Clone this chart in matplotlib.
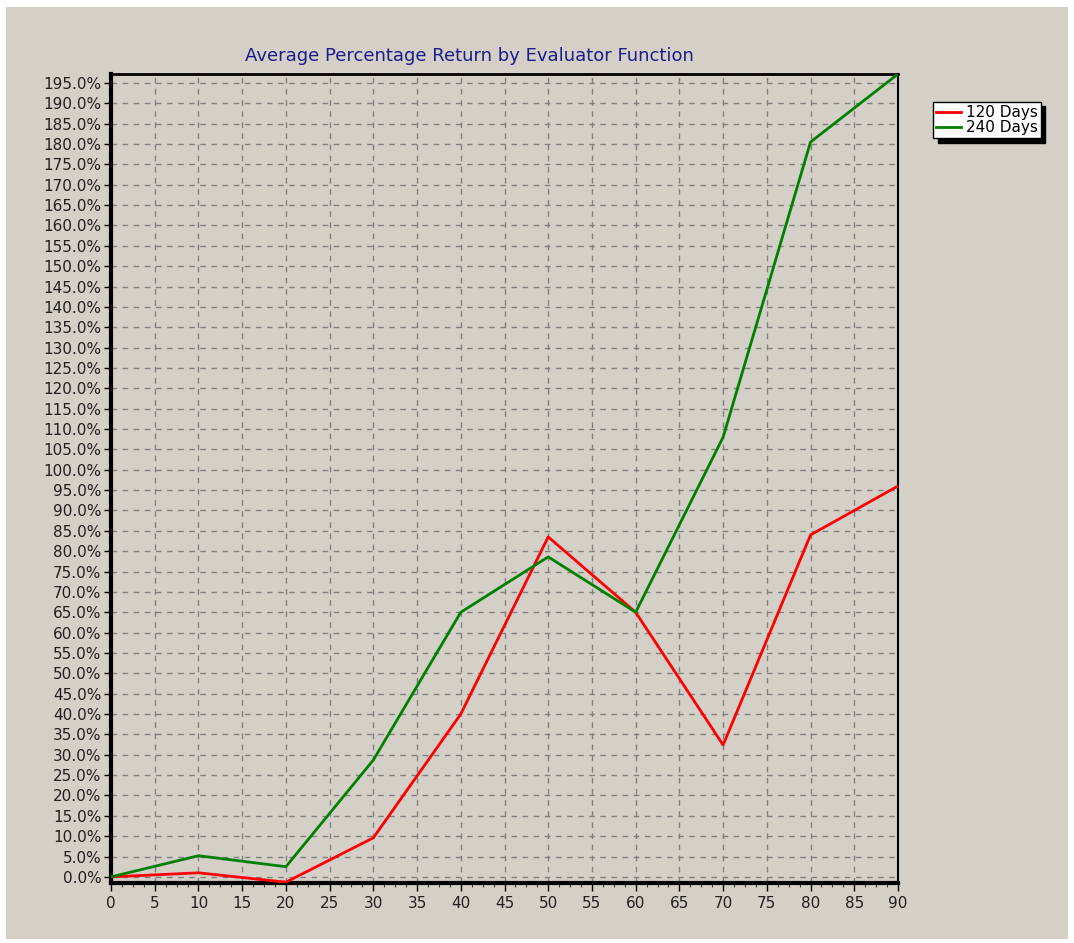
import matplotlib
matplotlib.use("Agg")
import matplotlib.pyplot as plt
from matplotlib.patches import Rectangle
from matplotlib.ticker import MultipleLocator, FuncFormatter

# evaluator function value (x) and average return in percent
evaluator = [0, 10, 20, 30, 40, 50, 60, 70, 80, 90]
days_120 = [0.0, 1.0, -1.3, 9.6, 40.0, 83.5, 65.0, 32.4, 84.0, 96.0]
days_240 = [0.0, 5.2, 2.5, 28.7, 65.0, 78.6, 65.0, 108.0, 180.5, 197.2]
series_labels = ["120 Days", "240 Days"]
title = "Average Percentage Return by Evaluator Function"

bg = "#d4d0c8"
plt.rcParams["font.family"] = ["DejaVu Sans"]

fig = plt.figure(figsize=(10.74, 9.43), dpi=100, facecolor="white")
# grey panel inside a thin white border
fig.patches.append(Rectangle((6 / 1074, 0.004), 1 - 12 / 1074, 1 - 11 / 943,
                             transform=fig.transFigure, facecolor=bg,
                             edgecolor="none", zorder=-10))

ax = fig.add_axes([111 / 1074, 60 / 943, (898 - 111) / 1074, (883 - 74) / 943])
ax.set_facecolor(bg)

ax.plot(evaluator, days_120, color="#ff0000", lw=2, label=series_labels[0], zorder=3)
ax.plot(evaluator, days_240, color="#008000", lw=2, label=series_labels[1], zorder=3)

ax.set_xlim(0, 90)
ax.set_ylim(-1.5, 197.2)
ax.xaxis.set_major_locator(MultipleLocator(5))
ax.xaxis.set_minor_locator(MultipleLocator(1.25))
ax.yaxis.set_major_locator(MultipleLocator(5))
ax.yaxis.set_major_formatter(FuncFormatter(lambda v, p: f"{v:.1f}%"))

ax.tick_params(axis="both", which="major", direction="out", labelsize=11,
               colors="black", width=1)
ax.tick_params(axis="x", which="major", length=6, pad=3)
ax.tick_params(axis="x", which="minor", length=3, width=0.8, color="#404040")
ax.tick_params(axis="y", which="major", length=5, pad=2)
for lab in ax.get_xticklabels() + ax.get_yticklabels():
    lab.set_color("#202020")

ax.grid(True, which="major", color="#808080", linestyle=(0, (4, 4)), lw=1)

for side, w in [("left", 3), ("bottom", 3), ("top", 2), ("right", 1.5)]:
    ax.spines[side].set_linewidth(w)
    ax.spines[side].set_color("black")

# title is centred over the labels plus plot area
fig.text(469 / 1074, 1 - 56 / 943, title, color="#1c1c8c", fontsize=13,
         ha="center", va="center")

leg = ax.legend(loc="upper left", bbox_to_anchor=(1.045, 0.965), fontsize=11,
                frameon=True, fancybox=False,
                shadow={"color": "black", "alpha": 1, "ox": 3, "oy": -3},
                handlelength=1.6, borderpad=0.2, labelspacing=0.0,
                handletextpad=0.35, borderaxespad=0)
leg.get_frame().set_edgecolor("black")
leg.get_frame().set_linewidth(1)
leg.get_frame().set_facecolor("white")

fig.savefig("out.png", dpi=100, facecolor="white")
